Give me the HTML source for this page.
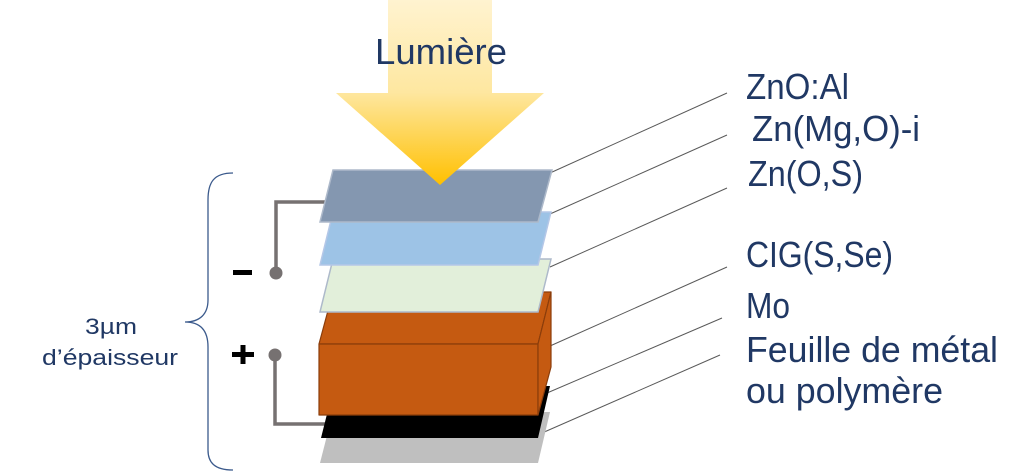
<!DOCTYPE html>
<html>
<head>
<meta charset="utf-8">
<style>
  html,body{margin:0;padding:0;background:#fff;}
  svg{display:block;}
  text{font-family:"Liberation Sans", "DejaVu Sans", sans-serif;fill:#203864;}
</style>
</head>
<body>
<svg width="1023" height="471" viewBox="0 0 1023 471" xmlns="http://www.w3.org/2000/svg">
  <defs>
    <linearGradient id="sun" x1="0" y1="0" x2="0" y2="1" gradientUnits="objectBoundingBox">
      <stop offset="0" stop-color="#fff3d0"/>
      <stop offset="0.5" stop-color="#fee7a0"/>
      <stop offset="1" stop-color="#ffc000"/>
    </linearGradient>
  </defs>

  <!-- brace -->
  <path d="M233 173 C214 173 208 182 208 200 L208 300 C208 314 200 322 185 322 C200 322 208 330 208 347 L208 450 C208 462 214 470 233 470" fill="none" stroke="#3b5a8c" stroke-width="1.3"/>

  <text x="85" y="334" font-size="22" textLength="52" lengthAdjust="spacingAndGlyphs">3µm</text>
  <text x="42" y="365" font-size="22" textLength="136" lengthAdjust="spacingAndGlyphs">d’épaisseur</text>

  <!-- wires -->
  <path d="M325 202 H276 V273" fill="none" stroke="#767171" stroke-width="3.5"/>
  <circle cx="276" cy="273" r="6.5" fill="#767171"/>
  <path d="M275 355 V424 H325" fill="none" stroke="#767171" stroke-width="3.5"/>
  <circle cx="275" cy="355" r="6.5" fill="#767171"/>

  <!-- signs -->
  <rect x="233" y="270" width="19" height="5" fill="#000"/>
  <rect x="232" y="352" width="22" height="5" fill="#000"/>
  <rect x="240.5" y="345" width="5" height="19" fill="#000"/>

  <!-- leader lines -->
  <g stroke="#595959" stroke-width="1" fill="none">
    <line x1="550" y1="173" x2="727" y2="93"/>
    <line x1="550" y1="214" x2="727" y2="135"/>
    <line x1="550" y1="267" x2="727" y2="188"/>
    <line x1="550" y1="346" x2="727" y2="267"/>
    <line x1="547" y1="393" x2="722" y2="318"/>
    <line x1="542" y1="433" x2="720" y2="355"/>
  </g>

  <!-- stack -->
  <polygon points="333,412 550,412 538,463 320,463" fill="#bfbfbf"/>
  <polygon points="334,386 550,386 538,438 321,438" fill="#000"/>
  <g stroke="#8b3d0b" stroke-width="1.2" fill="#c55a11" stroke-linejoin="round">
    <polygon points="333,292 551,292 538,344 319,344"/>
    <rect x="319" y="344" width="219" height="71"/>
    <polygon points="538,344 551,292 551,367 538,415"/>
  </g>
  <polygon points="333,259 551,259 538,312 320,312" fill="#e2efda" stroke="#adb9ca" stroke-width="1.5"/>
  <polygon points="333,212 551,212 538,265 320,265" fill="#9dc3e6" stroke="#b4c7e7" stroke-width="1.5"/>
  <polygon points="333,170 552,170 538,222 320,222" fill="#8497b0" stroke="#adb9ca" stroke-width="1.5"/>

  <!-- light arrow -->
  <polygon points="388,0 492,0 492,93 544,93 440,185 336,93 388,93" fill="url(#sun)"/>

  <text x="375" y="64" font-size="36" textLength="132" lengthAdjust="spacingAndGlyphs">Lumière</text>

  <!-- labels -->
  <text x="746" y="99" font-size="36" textLength="103" lengthAdjust="spacingAndGlyphs">ZnO:Al</text>
  <text x="752" y="141" font-size="36" textLength="168" lengthAdjust="spacingAndGlyphs">Zn(Mg,O)-i</text>
  <text x="748" y="186" font-size="36" textLength="115" lengthAdjust="spacingAndGlyphs">Zn(O,S)</text>
  <text x="746" y="267" font-size="36" textLength="147" lengthAdjust="spacingAndGlyphs">CIG(S,Se)</text>
  <text x="746" y="318" font-size="36" textLength="44" lengthAdjust="spacingAndGlyphs">Mo</text>
  <text x="746" y="362" font-size="36" textLength="252" lengthAdjust="spacingAndGlyphs">Feuille de métal</text>
  <text x="746" y="403" font-size="36" textLength="197" lengthAdjust="spacingAndGlyphs">ou polymère</text>
</svg>
</body>
</html>
